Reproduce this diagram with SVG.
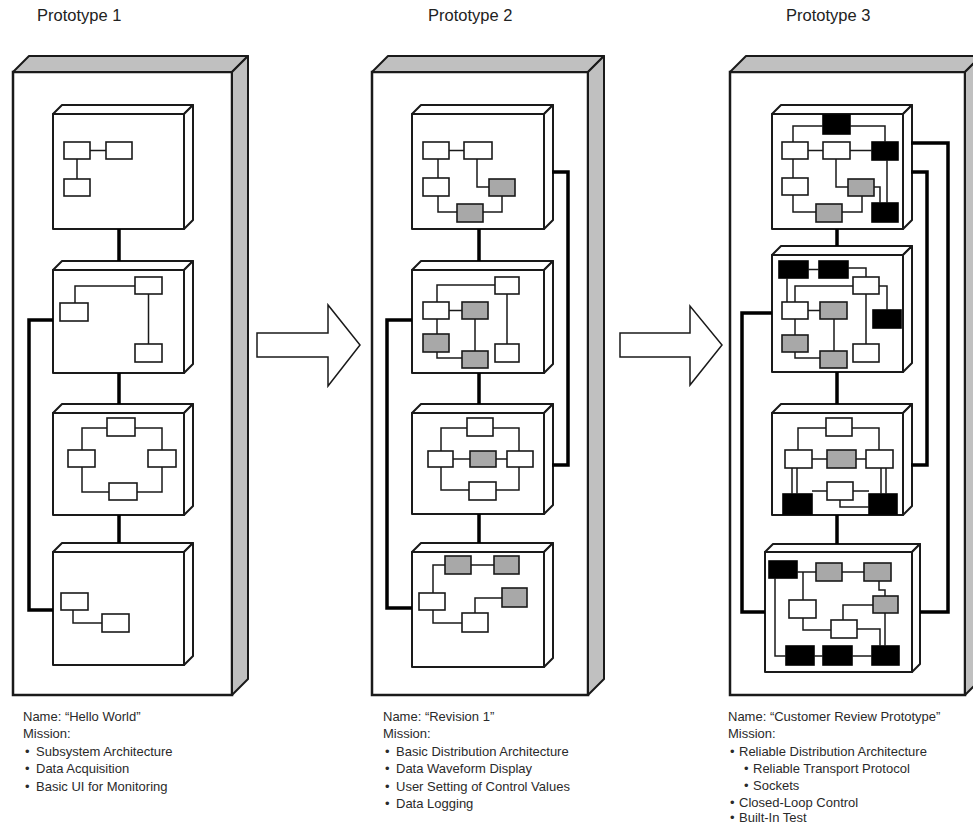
<svg xmlns="http://www.w3.org/2000/svg" width="973" height="825" viewBox="0 0 973 825">
<style>
.front{fill:#fff;stroke:#1a1a1a;stroke-width:2.5}
.shade{fill:#c0c0c0;stroke:#1a1a1a;stroke-width:2;stroke-linejoin:round}
.box{fill:#fff;stroke:#1a1a1a;stroke-width:2;stroke-linejoin:round}
.w{fill:#fff;stroke:#1a1a1a;stroke-width:1.6}
.g{fill:#a8a8a8;stroke:#1a1a1a;stroke-width:1.6}
.k{fill:#000;stroke:#000;stroke-width:1.6}
.wire{fill:none;stroke:#1a1a1a;stroke-width:1.5}
.bus{fill:none;stroke:#000;stroke-width:3.5;stroke-linejoin:miter}
.arrow{fill:#fff;stroke:#1a1a1a;stroke-width:1.5}
.title{font-family:"Liberation Sans",Arial,sans-serif;font-size:16.5px;fill:#222}
.txt{font-family:"Liberation Sans",Arial,sans-serif;font-size:13px;fill:#2a2a2a}
</style>

<!-- Prototype 1 -->
<g id="prototype1">
<text class="title" x="37" y="21">Prototype 1</text>
<rect class="front" x="13" y="72" width="219" height="623"/>
<polygon class="shade" points="13,72 29,56 248,56 232,72"/>
<polygon class="shade" points="232,72 248,56 248,679 232,695"/>
</g>
<g id="p1-box1">
<rect class="box" x="53" y="114" width="131" height="115"/>
<polygon class="box" points="53,114 62,105 193,105 184,114"/>
<polygon class="box" points="184,114 193,105 193,220 184,229"/>
<rect class="w" x="64" y="142" width="26" height="17"/>
<rect class="w" x="106" y="142" width="26" height="17"/>
<rect class="w" x="64" y="179" width="26" height="17"/>
<path class="wire" d="M90,150.5 H106 M77,159 V179"/>
</g>
<g id="p1-box2">
<rect class="box" x="53" y="270" width="131" height="103"/>
<polygon class="box" points="53,270 62,261 193,261 184,270"/>
<polygon class="box" points="184,270 193,261 193,364 184,373"/>
<rect class="w" x="135" y="277" width="27" height="17"/>
<rect class="w" x="60" y="303" width="28" height="18"/>
<rect class="w" x="135" y="344" width="27" height="18"/>
<path class="wire" d="M135,286 H75 V303 M148.5,294 V344"/>
</g>
<g id="p1-box3">
<rect class="box" x="53" y="413" width="131" height="102"/>
<polygon class="box" points="53,413 62,404 193,404 184,413"/>
<polygon class="box" points="184,413 193,404 193,506 184,515"/>
<rect class="w" x="107" y="418" width="28" height="18"/>
<rect class="w" x="68" y="450" width="27" height="17"/>
<rect class="w" x="148" y="450" width="28" height="17"/>
<rect class="w" x="109" y="483" width="28" height="17"/>
<path class="wire" d="M107,428 H82 V450 M82,467 V492 H109 M135,428 H162 V450 M162,467 V492 H137"/>
</g>
<g id="p1-box4">
<rect class="box" x="53" y="552" width="131" height="113"/>
<polygon class="box" points="53,552 62,543 193,543 184,552"/>
<polygon class="box" points="184,552 193,543 193,656 184,665"/>
<rect class="w" x="61" y="593" width="27" height="17"/>
<rect class="w" x="102" y="614" width="27" height="18"/>
<path class="wire" d="M73,610 V623 H102"/>
</g>

<!-- Prototype 2 -->
<g id="prototype2">
<text class="title" x="428" y="21">Prototype 2</text>
<rect class="front" x="372" y="72" width="216" height="623"/>
<polygon class="shade" points="372,72 388,56 604,56 588,72"/>
<polygon class="shade" points="588,72 604,56 604,679 588,695"/>
</g>
<g id="p2-box1">
<rect class="box" x="412" y="114" width="132" height="115"/>
<polygon class="box" points="412,114 421,105 553,105 544,114"/>
<polygon class="box" points="544,114 553,105 553,220 544,229"/>
<rect class="w" x="423" y="142" width="26" height="17"/>
<rect class="w" x="464" y="142" width="28" height="17"/>
<rect class="w" x="423" y="178" width="26" height="18"/>
<rect class="g" x="489" y="179" width="26" height="17"/>
<rect class="g" x="457" y="204" width="26" height="18"/>
<path class="wire" d="M449,150.5 H464 M438,159 V178 M477,159 V187 H489 M438,196 V212 H457 M483,212 H502 V196"/>
</g>
<g id="p2-box2">
<rect class="box" x="412" y="270" width="132" height="103"/>
<polygon class="box" points="412,270 421,261 553,261 544,270"/>
<polygon class="box" points="544,270 553,261 553,364 544,373"/>
<rect class="w" x="495" y="277" width="24" height="17"/>
<rect class="w" x="423" y="302" width="26" height="17"/>
<rect class="g" x="462" y="302" width="26" height="17"/>
<rect class="g" x="423" y="334" width="26" height="18"/>
<rect class="g" x="462" y="351" width="26" height="17"/>
<rect class="w" x="495" y="344" width="24" height="18"/>
<path class="wire" d="M495,285 H437 V302 M449,310.5 H462 M437,319 V334 M437,352 V358 H462 M475,319 V351 M507,294 V344"/>
</g>
<g id="p2-box3">
<rect class="box" x="412" y="413" width="132" height="101"/>
<polygon class="box" points="412,413 421,404 553,404 544,413"/>
<polygon class="box" points="544,413 553,404 553,505 544,514"/>
<rect class="w" x="467" y="418" width="26" height="18"/>
<rect class="w" x="428" y="451" width="25" height="16"/>
<rect class="g" x="470" y="451" width="26" height="16"/>
<rect class="w" x="507" y="451" width="26" height="16"/>
<rect class="w" x="469" y="482" width="27" height="18"/>
<path class="wire" d="M467,428 H441 V451 M441,467 V490 H469 M493,428 H519 V451 M519,467 V490 H496 M453,459 H470 M496,459 H507"/>
</g>
<g id="p2-box4">
<rect class="box" x="412" y="552" width="132" height="115"/>
<polygon class="box" points="412,552 421,543 553,543 544,552"/>
<polygon class="box" points="544,552 553,543 553,658 544,667"/>
<rect class="g" x="445" y="556" width="26" height="18"/>
<rect class="g" x="494" y="556" width="25" height="18"/>
<rect class="g" x="502" y="588" width="25" height="19"/>
<rect class="w" x="419" y="593" width="26" height="17"/>
<rect class="w" x="462" y="613" width="26" height="19"/>
<path class="wire" d="M471,565 H494 M445,565 H433 V593 M433,610 V623 H462 M475,613 V598 H502"/>
</g>

<!-- Prototype 3 -->
<g id="prototype3">
<text class="title" x="786" y="21">Prototype 3</text>
<rect class="front" x="730" y="72" width="235" height="623"/>
<polygon class="shade" points="730,72 746,56 981,56 965,72"/>
<polygon class="shade" points="965,72 981,56 981,679 965,695"/>
</g>
<g id="p3-box1">
<rect class="box" x="772" y="114" width="131" height="115"/>
<polygon class="box" points="772,114 781,105 912,105 903,114"/>
<polygon class="box" points="903,114 912,105 912,220 903,229"/>
<rect class="k" x="823" y="115" width="27" height="19"/>
<rect class="w" x="782" y="142" width="26" height="17"/>
<rect class="w" x="823" y="142" width="27" height="17"/>
<rect class="k" x="872" y="142" width="26" height="18"/>
<rect class="w" x="782" y="178" width="26" height="17"/>
<rect class="g" x="848" y="179" width="26" height="17"/>
<rect class="g" x="816" y="204" width="26" height="18"/>
<rect class="k" x="872" y="203" width="26" height="19"/>
<path class="wire" d="M793,142 V126 H823 M850,126 H885 V142 M808,150.5 H823 M850,150.5 H872 M793,159 V178 M793,195 V212 H816 M842,212 H862 V196 M836,159 V187 H848 M874,187 H880 V203 M887,160 V203"/>
</g>
<g id="p3-box2">
<rect class="box" x="772" y="255" width="131" height="117"/>
<polygon class="box" points="772,255 781,246 912,246 903,255"/>
<polygon class="box" points="903,255 912,246 912,363 903,372"/>
<rect class="k" x="779" y="261" width="29" height="17"/>
<rect class="k" x="819" y="261" width="29" height="17"/>
<rect class="w" x="853" y="277" width="26" height="17"/>
<rect class="w" x="782" y="302" width="26" height="17"/>
<rect class="g" x="820" y="302" width="27" height="17"/>
<rect class="k" x="873" y="310" width="28" height="18"/>
<rect class="g" x="782" y="335" width="26" height="17"/>
<rect class="g" x="820" y="351" width="27" height="17"/>
<rect class="w" x="853" y="344" width="26" height="18"/>
<path class="wire" d="M808,269.5 H819 M848,268 H866 V277 M853,286 H795 V302 M787,278 V302 M808,310.5 H820 M795,319 V335 M795,352 V358 H820 M834,319 V351 M866,294 V344 M879,286 H887 V310"/>
</g>
<g id="p3-box3">
<rect class="box" x="772" y="413" width="131" height="102"/>
<polygon class="box" points="772,413 781,404 912,404 903,413"/>
<polygon class="box" points="903,413 912,404 912,506 903,515"/>
<rect class="w" x="826" y="418" width="26" height="18"/>
<rect class="w" x="785" y="450" width="27" height="18"/>
<rect class="g" x="827" y="450" width="29" height="18"/>
<rect class="w" x="866" y="450" width="27" height="18"/>
<rect class="w" x="827" y="482" width="26" height="18"/>
<rect class="k" x="783" y="494" width="29" height="20"/>
<rect class="k" x="869" y="494" width="28" height="20"/>
<path class="wire" d="M826,428 H798 V450 M852,428 H879 V450 M812,459 H827 M856,459 H866 M792,468 V494 M797,468 V494 M881,468 V494 M886,468 V494 M812,491 H827 M853,491 H869 M840,500 V507 H869"/>
</g>
<g id="p3-box4">
<rect class="box" x="765" y="552" width="147" height="120"/>
<polygon class="box" points="765,552 773,544 920,544 912,552"/>
<polygon class="box" points="912,552 920,544 920,664 912,672"/>
<rect class="k" x="769" y="561" width="28" height="17"/>
<rect class="g" x="816" y="563" width="26" height="18"/>
<rect class="g" x="864" y="563" width="27" height="18"/>
<rect class="g" x="873" y="596" width="25" height="17"/>
<rect class="w" x="789" y="600" width="27" height="18"/>
<rect class="w" x="831" y="620" width="26" height="18"/>
<rect class="k" x="786" y="646" width="28" height="19"/>
<rect class="k" x="823" y="646" width="29" height="19"/>
<rect class="k" x="872" y="646" width="27" height="19"/>
<path class="wire" d="M797,572 H816 M842,572 H864 M803,572 V600 M879,581 V590 H885 V596 M803,618 V630 H831 M843,620 V605 H873 M885,613 V646 M857,629 H880 V646 M775,578 V656 H786 M814,656 H823 M852,656 H872"/>
</g>

<!-- Connectors -->
<g id="connectors">
<path class="bus" d="M119,229 V261 M119,373 V404 M119,515 V543"/>
<path class="bus" d="M53,320 H29 V610 H53"/>
<path class="bus" d="M479,229 V261 M479,373 V404 M479,514 V543"/>
<path class="bus" d="M412,320 H387 V608 H412"/>
<path class="bus" d="M552,172 H568 V465 H552"/>
<path class="bus" d="M837,229 V246 M837,372 V404 M837,515 V544"/>
<path class="bus" d="M772,313 H742 V612 H765"/>
<path class="bus" d="M911,143 H948 V612 H920"/>
<path class="bus" d="M911,172 H927 V465 H911"/>
<polygon class="arrow" points="257,333 328,333 328,305 360,345 328,386 328,357 257,357"/>
<polygon class="arrow" points="620,333 690,333 690,306 722,345 690,385 690,357 620,357"/>
</g>

<!-- Descriptions -->
<g id="desc1" class="txt">
<text x="23" y="721">Name: “Hello World”</text>
<text x="23" y="738">Mission:</text>
<text x="25" y="756">•</text><text x="36" y="756">Subsystem Architecture</text>
<text x="25" y="773">•</text><text x="36" y="773">Data Acquisition</text>
<text x="25" y="791">•</text><text x="36" y="791">Basic UI for Monitoring</text>
</g>
<g id="desc2" class="txt">
<text x="383" y="721">Name: “Revision 1”</text>
<text x="383" y="738">Mission:</text>
<text x="385" y="756">•</text><text x="396" y="756">Basic Distribution Architecture</text>
<text x="385" y="773">•</text><text x="396" y="773">Data Waveform Display</text>
<text x="385" y="791">•</text><text x="396" y="791">User Setting of Control Values</text>
<text x="385" y="808">•</text><text x="396" y="808">Data Logging</text>
</g>
<g id="desc3" class="txt">
<text x="728" y="721">Name: “Customer Review Prototype”</text>
<text x="728" y="738">Mission:</text>
<text x="730" y="756">•</text><text x="739" y="756">Reliable Distribution Architecture</text>
<text x="744" y="773">•</text><text x="753" y="773">Reliable Transport Protocol</text>
<text x="744" y="790">•</text><text x="753" y="790">Sockets</text>
<text x="730" y="807">•</text><text x="739" y="807">Closed-Loop Control</text>
<text x="730" y="822">•</text><text x="739" y="822">Built-In Test</text>
</g>
</svg>
